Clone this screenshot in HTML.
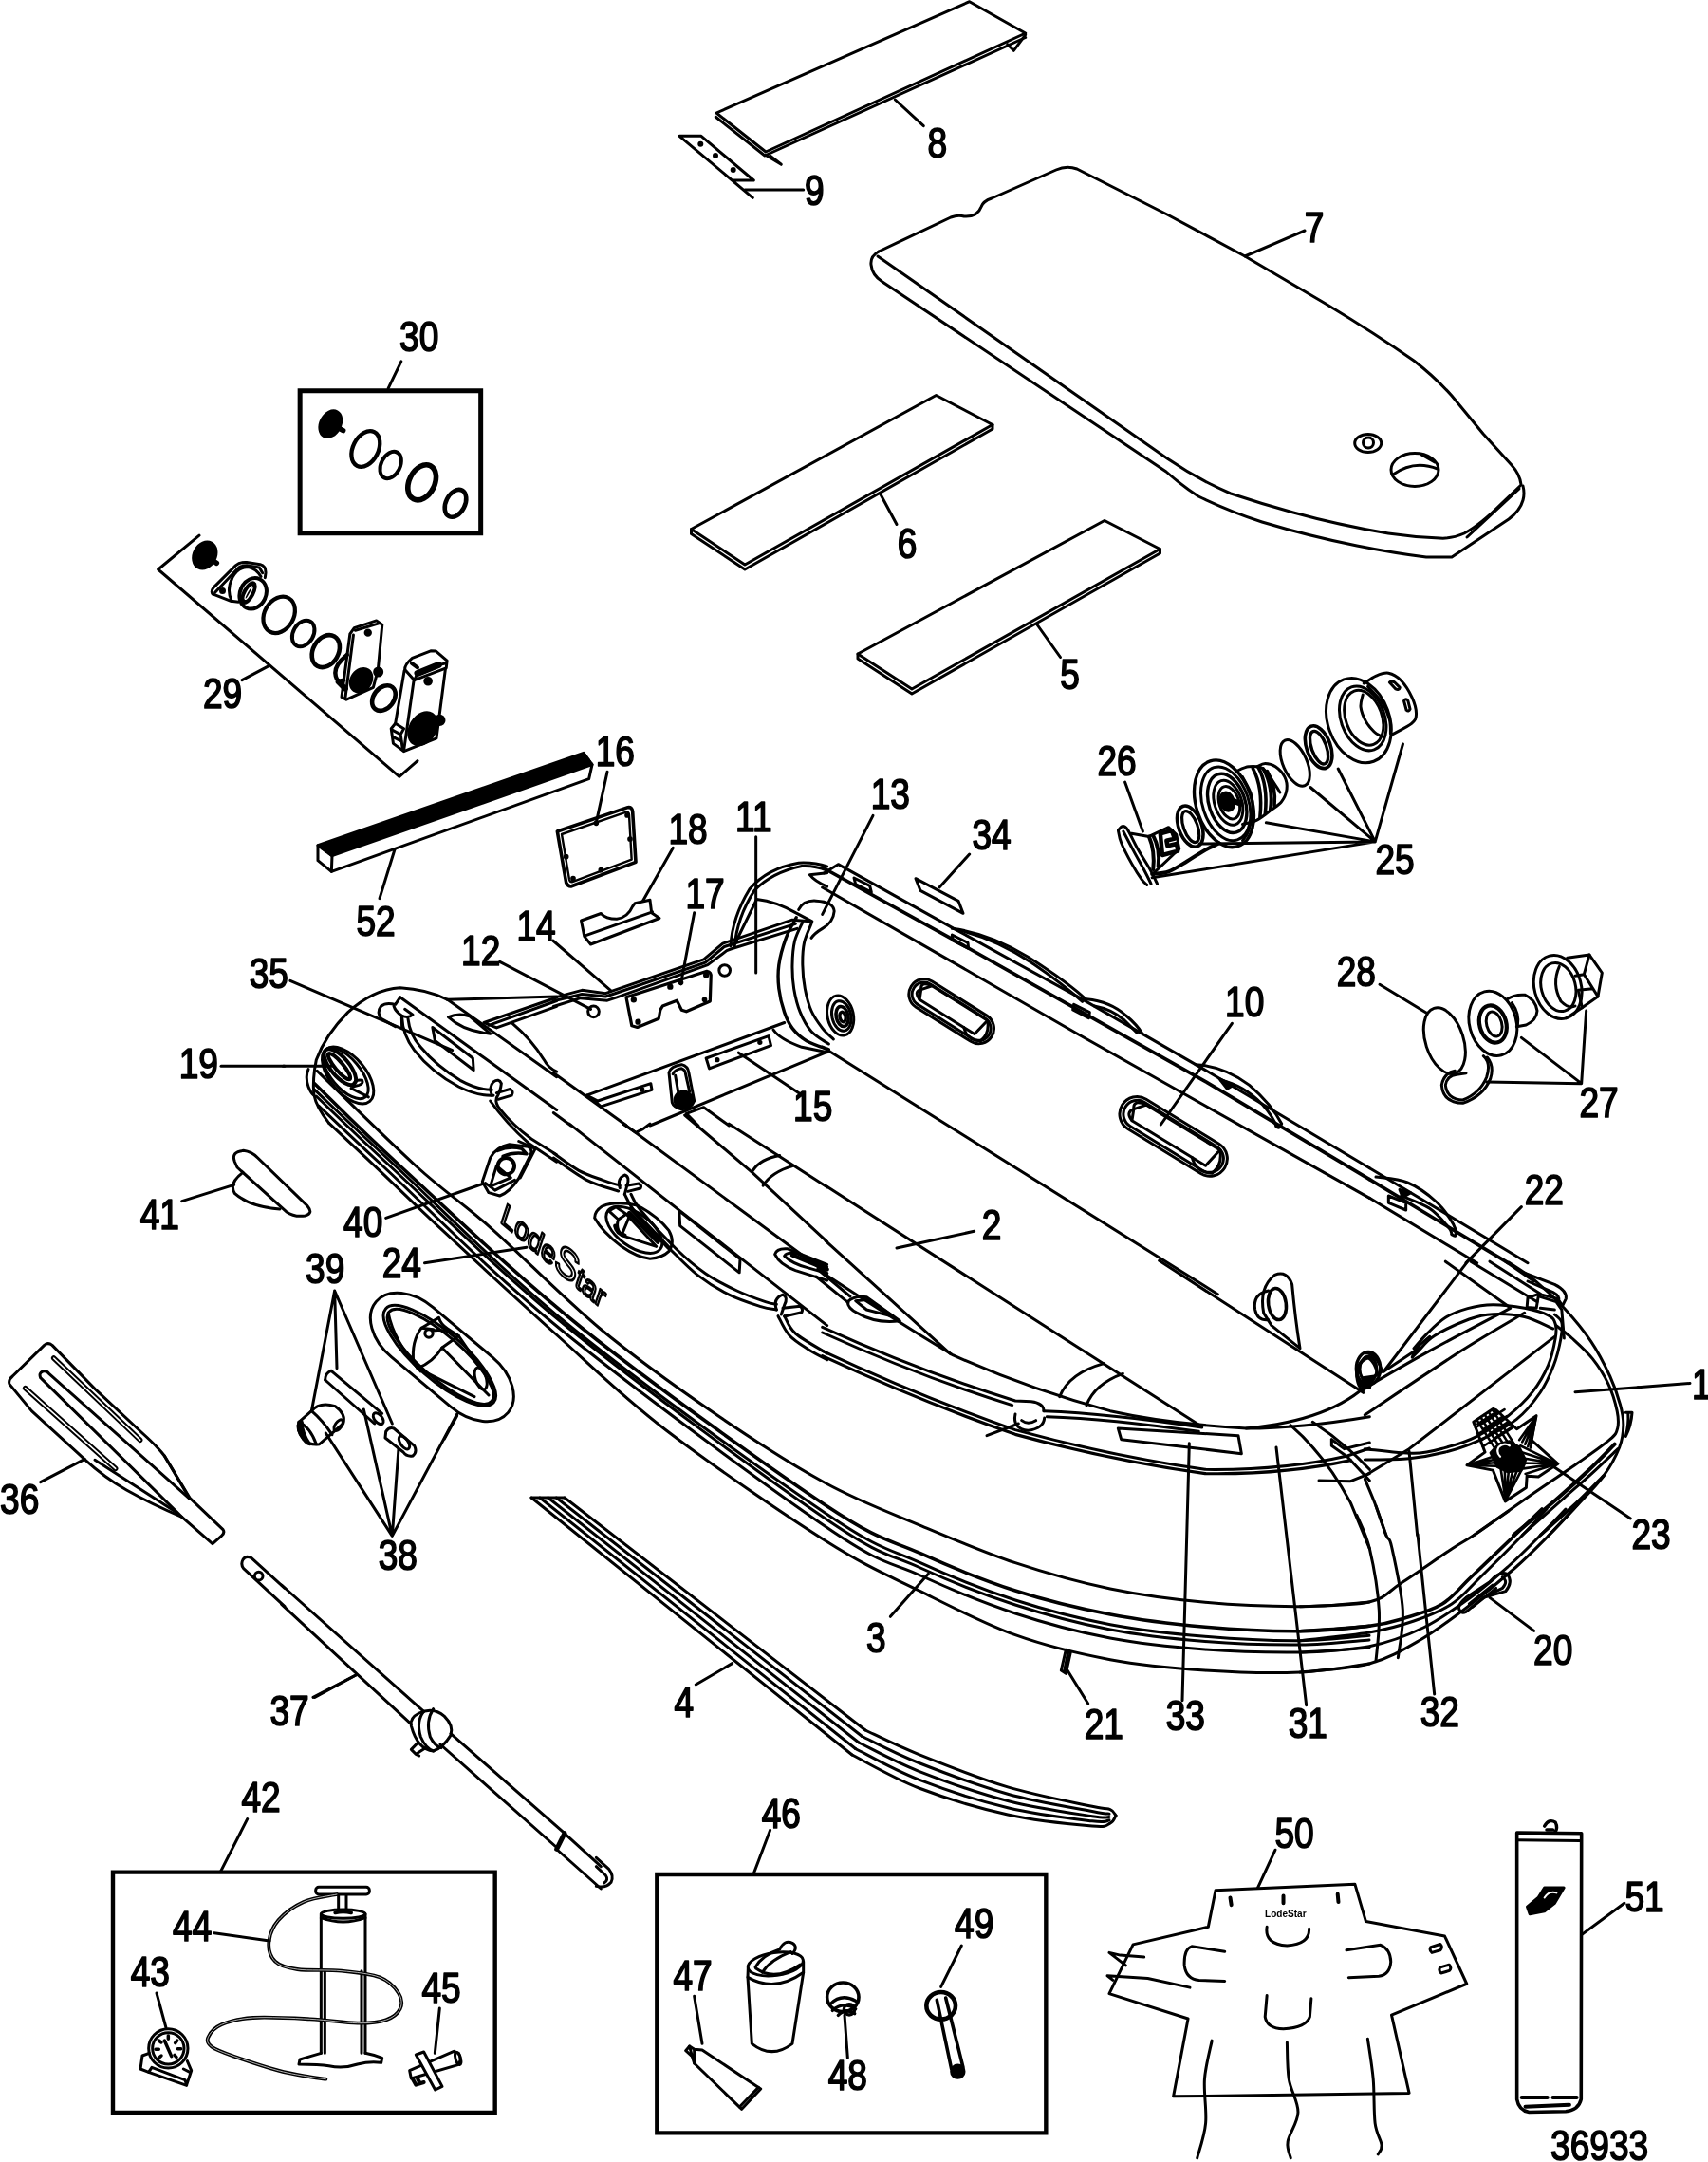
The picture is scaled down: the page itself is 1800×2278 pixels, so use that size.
<!DOCTYPE html>
<html><head><meta charset="utf-8"><title>LodeStar parts diagram 36933</title>
<style>
html,body{margin:0;padding:0;background:#fff}
svg{display:block}
.d path,.d line,.d ellipse,.d circle,.d polyline,.d polygon,.d rect{fill:none;stroke:#000;stroke-width:3;vector-effect:non-scaling-stroke;stroke-linecap:round;stroke-linejoin:round}
.d .f{fill:#000}
.d .w{fill:#fff}
.d .t{stroke-width:1.6}
.d .k{stroke-width:3.4}
.n text{font-family:"Liberation Sans",sans-serif;font-size:43.6px;text-anchor:middle;fill:#000;stroke:#000;stroke-width:1.7px;stroke-linejoin:round}
</style></head><body>
<svg width="1800" height="2278" viewBox="0 0 1800 2278">
<defs><filter id="gs" x="-10%" y="-10%" width="120%" height="120%"><feColorMatrix type="saturate" values="0"/></filter></defs>
<rect width="1800" height="2278" fill="#fff"/>
<g class="d">
<g transform="translate(0 0) scale(1.000000)">
<!-- part 7 floor board -->
<path d="M926,265 L1002,229 Q1010,226 1016,228 Q1030,229 1034,218 Q1036,212 1045,209 L1113,179 Q1124,174 1135,178 L1230,226 L1312,270 L1397,320 Q1450,352 1490,380 Q1512,397 1530,417 L1563,457 L1593,490 Q1602,500 1603,511 L1583,530 Q1560,553 1543,562 Q1530,568 1517,567 Q1490,566 1463,562 Q1410,553 1363,540 Q1330,531 1297,520 Q1262,505 1230,483 L925,270"/>
<path d="M926,265 Q917,270 918,279 Q919,290 930,297 L1229,497 Q1246,512 1263,523 Q1296,539 1330,550 Q1380,565 1430,575 Q1470,583 1503,587 L1530,587 L1590,547 Q1602,538 1605,527 Q1607,520 1605,512"/>
<path d="M1601,515 L1546,566"/>
<ellipse cx="1441.7" cy="467" rx="14" ry="9.5"/><circle cx="1442" cy="466.5" r="5.5"/>
<ellipse cx="1491" cy="495" rx="25" ry="17.5"/>
<path d="M1468,500 Q1490,484 1515,494"/>
<path d="M1498,479 L1512,487"/>
<line x1="1312" y1="270" x2="1375" y2="243"/>
<!-- part 8 -->
<path d="M755,119 L1021.7,1.7 L1080.7,35 L807,160 Z"/>
<path d="M754.3,123.3 L806,164 L1080.7,39.5"/>
<path d="M1061.7,46.7 L1068.3,53.3 L1080.7,36.7"/>
<path d="M806.7,163.3 L823.3,173.3 L811.7,164.3"/>
<line x1="943.3" y1="105" x2="973.3" y2="132.7"/>
<!-- part 9 -->
<path d="M793.3,208.3 L716,143.3 L739,143.3 L794.3,190 L771.7,190"/>
<circle class="f" cx="738.3" cy="151.7" r="1.5"/><circle class="f" cx="754" cy="164" r="1.5"/><circle class="f" cx="772.7" cy="179" r="1.5"/>
<line x1="785" y1="200" x2="846.7" y2="200"/>
<!-- part 6 -->
<path d="M986.5,416.5 L1046,447.5 L785,595 L728.5,557.5 Z"/>
<path d="M1046,447.5 L1046,452 L785,600 L728.5,562.5 L728.5,557.5"/>
<line x1="927.5" y1="520" x2="945" y2="552.5"/>
<!-- part 5 -->
<path d="M1164,548.5 L1222.5,578.5 L961,726 L904,689 Z"/>
<path d="M1222.5,578.5 L1222.5,583 L961,731 L904,694 L904,689"/>
<line x1="1092.5" y1="657.5" x2="1117.5" y2="692.5"/>

</g>
<g transform="translate(300 400) scale(0.166667)">
<rect x="97" y="70" width="1143" height="900" style="stroke-width:5;stroke-linejoin:miter"/>
<line x1="655" y1="55" x2="737" y2="-115"/>
<ellipse class="f" cx="290" cy="280" rx="62" ry="88" transform="rotate(28 290 280)"/>
<line x1="320" y1="295" x2="370" y2="322" style="stroke-width:5.5"/>
<ellipse cx="512" cy="438" rx="80" ry="120" transform="rotate(27 512 438)" style="stroke-width:4.3"/>
<ellipse cx="670" cy="540" rx="60" ry="90" transform="rotate(27 670 540)" style="stroke-width:4"/>
<ellipse cx="868" cy="650" rx="80" ry="118" transform="rotate(27 868 650)" style="stroke-width:5.6"/>
<ellipse cx="1080" cy="782" rx="60" ry="92" transform="rotate(27 1080 782)" style="stroke-width:4.6"/>

</g>
<g transform="translate(160 560) scale(0.166667)">
<path d="M300,25 L40,240 L1565,1550 L1680,1450"/>
<line x1="740" y1="850" x2="570" y2="940"/>
<ellipse class="f" cx="335" cy="150" rx="68" ry="88" transform="rotate(28 335 150)"/>
<line x1="370" y1="175" x2="410" y2="200" style="stroke-width:5.5"/>
<!-- flange -->
<path d="M385,395 Q372,380 390,355 L530,215 Q555,192 600,195 L685,208 Q722,218 720,262 L716,292"/>
<path d="M400,385 L545,232 Q560,215 600,215 L680,228 L700,262"/>
<path d="M385,395 L500,440 L548,445"/>
<path d="M505,440 Q470,370 510,290 Q545,225 610,225 Q660,235 690,285"/>
<circle class="f" cx="447" cy="375" r="12"/>
<ellipse cx="640" cy="392" rx="82" ry="100" transform="rotate(25 640 392)" style="stroke-width:4"/>
<ellipse class="f" cx="612" cy="388" rx="30" ry="72" transform="rotate(28 612 388)"/>
<ellipse cx="612" cy="388" rx="10" ry="45" transform="rotate(28 612 388)" style="stroke:#fff;stroke-width:1.5"/>
<ellipse cx="805" cy="527" rx="92" ry="122" transform="rotate(30 805 527)" style="stroke-width:4.2"/>
<ellipse cx="958" cy="645" rx="64" ry="88" transform="rotate(30 958 645)" style="stroke-width:4"/>
<ellipse cx="1100" cy="757" rx="80" ry="108" transform="rotate(30 1100 757)" style="stroke-width:4.6"/>

</g>
<g transform="translate(340 640) scale(0.111111)">
<!-- plate -->
<path d="M300,195 L510,125 L565,165 L525,590 L480,760 L225,875 L180,850 L260,250 Z" style="stroke-width:3"/>
<path d="M310,218 L540,150"/>
<path d="M292,262 L215,860"/>
<circle class="f" cx="430" cy="240" r="24"/>
<ellipse class="f" cx="365" cy="690" rx="92" ry="118" transform="rotate(35 365 690)"/>
<circle class="f" cx="528" cy="612" r="36"/>
<path d="M232,450 Q120,540 120,620 Q125,690 160,700 L200,690" style="stroke-width:4.5"/>
<path d="M150,705 L215,770" style="stroke-width:6"/>
<!-- ring -->
<ellipse cx="580" cy="860" rx="96" ry="132" transform="rotate(38 580 860)" style="stroke-width:4.6"/>
<!-- block -->
<path d="M780,590 Q775,545 850,480 L1025,412 L1075,415 L1180,505 L1172,575 L870,690 Z" style="stroke-width:3"/>
<path d="M775,600 L690,1100 L650,1150 L670,1290 L770,1365 L1080,1240 L1165,580" style="stroke-width:3"/>
<path d="M865,690 L770,1360" style="stroke-width:3"/>
<path d="M690,1100 L770,1150 L740,1205 L655,1160 M740,1205 L760,1350 M670,1230 L750,1270"/>
<ellipse class="f" cx="950" cy="1150" rx="118" ry="165" transform="rotate(32 950 1150)"/>
<circle class="f" cx="1110" cy="1070" r="42"/>
<circle class="f" cx="1000" cy="700" r="30"/>
<path d="M900,625 L1100,545" style="stroke-width:7"/>
<path d="M845,530 L900,570" style="stroke-width:4"/>
<path d="M870,690 L900,625 M1100,545 L1172,530"/>

</g>
<g transform="translate(300 1000) scale(0.166667)">
<!-- stern cone outline -->
<path d="M1030,320 Q900,255 730,245 Q560,255 400,400 Q260,540 200,700 Q175,820 185,920 Q200,1000 280,1100"/>
<path d="M150,760 Q128,810 150,870 Q165,910 185,925"/>





<!-- valve 19 -->
<ellipse cx="400" cy="798" rx="215" ry="112" transform="rotate(50 400 798)"/>
<ellipse cx="385" cy="785" rx="195" ry="92" transform="rotate(50 385 785)"/>
<ellipse cx="350" cy="745" rx="140" ry="58" transform="rotate(50 350 745)" style="stroke-width:4"/>
<ellipse cx="345" cy="742" rx="105" ry="26" transform="rotate(50 345 742)" style="stroke-width:4"/>
<path d="M430,870 Q440,820 490,830 Q500,850 470,860 Z"/>
<path d="M420,880 L530,935"/>
<line x1="-10" y1="740" x2="300" y2="740"/>
<!-- leader 35 -->
<line x1="35" y1="200" x2="1060" y2="640"/>
<!-- top lines -->
<path d="M1030,320 L1720,300"/>
<path d="M1030,320 L1720,808"/>
<path d="M730,305 L1720,1017"/>
<path d="M1260,465 L1720,306 M1290,482 L1720,327 M1340,497 L1720,362 M1260,465 L1340,497"/>
<path d="M1440,470 Q1560,570 1640,700 Q1665,750 1720,775"/>
<path d="M1035,430 Q1100,400 1170,425 L1300,535 Q1130,520 1035,430 Z"/>
<!-- handle patch and rope -->
<path d="M730,305 L700,350 Q640,335 610,360 Q580,400 610,440 L700,490"/>
<path d="M690,360 Q700,395 740,420 L742,500 M740,420 Q780,440 810,415 L760,380"/>
<path d="M742,430 Q745,540 820,640 Q930,780 1100,870 Q1220,930 1320,925"/>
<path d="M780,440 Q790,540 860,620 Q960,740 1110,830 Q1220,890 1310,890"/>
<path d="M935,495 L1190,690 L1195,765 L950,578 Z"/>
<path d="M1310,925 Q1290,870 1320,840 Q1355,815 1370,850 Q1365,900 1340,940 Q1330,975 1360,1010 Q1440,1110 1560,1200 L1720,1300"/>
<path d="M1300,960 Q1400,1100 1540,1225 L1720,1345"/>
<path d="M1340,910 L1425,885 Q1450,900 1435,925 L1350,950"/>
<!-- oarlock 40 -->
<path d="M1250,1470 L1300,1320 Q1340,1250 1420,1235 L1540,1250 Q1570,1265 1555,1300 L1480,1450 Q1420,1540 1360,1560 L1290,1540 Z"/>
<circle cx="1400" cy="1372" r="52" style="stroke-width:4"/>
<path d="M1300,1500 L1340,1370 L1430,1445 Z"/>
<path d="M1345,1275 Q1420,1240 1500,1262 L1530,1295 Q1450,1280 1380,1310" style="stroke-width:3.5"/>
<path d="M1480,1215 L1585,1262 L1490,1445"/>
<path d="M1270,1480 L1330,1525 L1455,1460"/>
<line x1="1250" y1="1485" x2="640" y2="1700"/>

</g>
<g transform="translate(585 900) scale(0.166667)">
<!-- part 18 -->
<path d="M165,420 L290,375 Q320,410 390,410 Q460,400 490,330 L505,310 L600,290 L610,370 L660,405 L225,570 L185,520 Z"/>
<path d="M190,515 L615,365"/>
<line x1="555" y1="295" x2="746" y2="-40"/>
<line x1="880" y1="370" x2="795" y2="820"/>
<line x1="1270" y1="-110" x2="1270" y2="750"/>
<!-- transom top -->
<path d="M-10,908 L170,860 L320,880 L370,862 L940,665 L1060,565 L1500,415 L1610,425"/>
<path d="M-10,928 L170,885 L320,900 L375,882 L950,685 L1070,585 L1520,440"/>
<path d="M-10,963 L160,910 L330,925 L390,905 L965,700 L1085,610 L1110,600 L1530,470"/>
<line x1="-14" y1="546" x2="350" y2="860"/>
<line x1="-350" y1="680" x2="225" y2="980"/>
<circle cx="243" cy="995" r="35"/>
<circle cx="1072" cy="735" r="35"/>
<path d="M450,905 L960,740 Q990,745 985,780 L980,930 L830,995 L800,985 L770,925 L680,960 L665,985 L655,1040 L520,1095 L485,1085 Z" style="stroke-width:3.2"/>
<circle class="f" cx="497" cy="920" r="10"/><circle class="f" cx="728" cy="838" r="10"/><circle class="f" cx="795" cy="812" r="8"/><circle class="f" cx="955" cy="765" r="10"/><circle class="f" cx="945" cy="920" r="8"/><circle class="f" cx="525" cy="1060" r="10"/>
<!-- far tube end -->
<path d="M1110,580 Q1120,400 1230,220 Q1340,90 1540,55 Q1640,50 1720,78"/>
<path d="M1135,585 Q1150,400 1260,230 Q1370,115 1560,75 Q1640,70 1720,102"/>
<path d="M1150,540 L1275,285 Q1400,300 1520,370 L1625,425"/>
<path d="M1720,118 L1610,130 Q1640,170 1720,205"/>
<path d="M1540,350 Q1570,290 1650,295 Q1760,300 1765,360 Q1760,430 1690,470 Q1640,500 1620,530"/>
<path d="M1525,400 C1514.2,421.7 1478.3,480.0 1460,530 C1441.7,580.0 1422.5,646.7 1415,700 C1407.5,753.3 1409.2,800.0 1415,850 C1420.8,900.0 1435.8,958.3 1450,1000 C1464.2,1041.7 1476.7,1070.0 1500,1100 C1523.3,1130.0 1551.7,1157.5 1590,1180 C1628.3,1202.5 1706.7,1225.8 1730,1235" style="stroke-width:3.4"/>
<path d="M1565,430 C1556.7,450.0 1525.8,505.0 1515,550 C1504.2,595.0 1500.8,650.0 1500,700 C1499.2,750.0 1501.7,800.0 1510,850 C1518.3,900.0 1531.7,955.0 1550,1000 C1568.3,1045.0 1590.0,1086.7 1620,1120 C1650.0,1153.3 1711.7,1186.7 1730,1200"/>
<path d="M1620,440 C1612.5,460.0 1584.2,516.7 1575,560 C1565.8,603.3 1564.2,651.7 1565,700 C1565.8,748.3 1570.8,801.7 1580,850 C1589.2,898.3 1601.7,948.3 1620,990 C1638.3,1031.7 1666.7,1070.0 1690,1100 C1713.3,1130.0 1748.3,1158.3 1760,1170"/>

<path d="M1380,1110 Q1420,1170 1560,1220 L1720,1252"/>
<!-- floor -->
<path d="M200,1525 L1450,1065"/>
<path d="M-10,1383 L450,1715"/>
<path d="M955,1290 L1350,1150 L1365,1210 L975,1355 Z"/>
<circle class="f" cx="1025" cy="1300" r="7"/><circle class="f" cx="1295" cy="1190" r="7"/>
<path d="M200,1525 L270,1560 L605,1450 L612,1490 L290,1595 L225,1540"/>
<circle class="f" cx="550" cy="1488" r="7"/>
<path d="M600,1716 L1720,1250"/>
<line x1="1160" y1="1255" x2="1555" y2="1520"/>
<path d="M720,1380 Q730,1340 800,1330 Q840,1340 845,1380 L880,1560 Q860,1610 800,1612 Q750,1600 740,1570 Z" style="stroke-width:3"/>
<path d="M745,1390 Q760,1360 800,1355 Q825,1365 825,1390 L850,1500"/>
<path d="M760,1400 L790,1570"/>
<circle class="f" cx="812" cy="1555" r="55"/>
<path d="M830,1640 L940,1600 L1100,1716 M830,1640 L905,1716"/>
<path d="M-10,1635 L100,1716"/>

</g>
<g transform="translate(870 760) scale(0.333333)">
<!-- far tube top seam lines -->
<path d="M-5,480 L40,452 L400,652 L800,872 L1200,1102 L1720,1412"/>
<path d="M-10,462 L400,688 L800,913 L1200,1138 L1720,1448" style="stroke-width:3.6"/>
<path d="M-10,525 L400,760 L800,990 L1200,1215 L1720,1507"/>

<!-- rope arcs -->
<path d="M400,655 Q520,670 640,745 Q760,820 825,880"/>
<path d="M430,662 Q540,690 650,762 Q750,830 812,886"/>
<path d="M825,878 Q900,885 950,930 Q985,960 1000,985"/>
<path d="M850,900 Q905,910 945,945 L985,985"/>
<path d="M1170,1085 Q1260,1090 1340,1150 Q1410,1210 1442,1272 Q1436,1292 1425,1280"/>
<path d="M1250,1135 Q1320,1150 1380,1210 Q1415,1250 1425,1280"/>
<!-- tabs -->
<path d="M90,495 L140,520 L145,540 L95,515 Z"/>
<path d="M400,675 L450,700 L452,718 L402,693 Z"/>
<path d="M785,895 L835,920 L832,938 L782,912 Z"/>
<path class="f" d="M1245,1130 L1290,1150 L1270,1162 Z"/>
<!-- 34 -->
<path d="M285,497 L420,568 L435,607 L300,535 Z"/>
<line x1="455" y1="420" x2="360" y2="525"/>
<line x1="150" y1="298" x2="-10" y2="610"/>
<!-- handles 10 -->
<g transform="translate(398 917) rotate(32)">
<rect x="-150" y="-48" width="300" height="96" rx="48"/>
<rect x="-140" y="-38" width="280" height="76" rx="38"/>
<path d="M-118,-8 L-95,-36 L112,-36 L100,22 L-105,22 Z"/>
<path d="M-95,-36 Q-135,-30 -118,-8 Q-135,10 -105,22 M112,-36 Q140,-5 128,30 Q90,52 60,22"/>
</g>
<g transform="translate(1100 1312) rotate(31.5)">
<rect x="-190" y="-55" width="380" height="110" rx="55"/>
<rect x="-178" y="-44" width="356" height="88" rx="44"/>
<path d="M-152,-8 L-125,-40 L148,-40 L135,26 L-138,26 Z"/>
<path d="M-125,-40 Q-172,-34 -152,-8 Q-170,14 -138,26 M148,-40 Q180,-5 165,36 Q120,60 85,26"/>
</g>
<line x1="1285" y1="955" x2="1060" y2="1275"/>
<!-- valve -->
<g transform="rotate(-12 47 930)"><ellipse cx="47" cy="930" rx="41" ry="64"/><ellipse cx="50" cy="932" rx="30" ry="48"/><ellipse cx="52" cy="934" rx="19" ry="32" style="stroke-width:3.6"/><ellipse cx="53" cy="936" rx="9" ry="16" style="stroke-width:3.4"/></g>
<!-- floor lines -->
<path d="M-10,1029 L1240,1811"/>
<line x1="225" y1="1665" x2="470" y2="1612"/>

</g>
<g transform="translate(870 1330) scale(0.333333)">
<!-- curve a: inner edge of near tube top -->
<path d="M-10,32 Q200,170 400,292 Q640,400 900,470 Q1080,510 1330,525 Q1500,525 1720,488"/>
<path d="M0,-68 L395,290"/>
<path d="M0,-242 L1190,520"/>
<path d="M740,425 Q770,350 880,320 M825,452 Q850,385 940,352"/>
<!-- F1 -->
<path d="M1055,-5 L1700,412"/>
<!-- handle patch top-left -->
<path d="M-25,22 L78,108 M-30,45 L72,128"/>
<path d="M70,125 Q90,105 130,110 L235,185 Q160,195 100,160 Q70,145 70,125 Z"/>
<path d="M95,122 L135,118 L215,172 L130,150 Z" style="stroke-width:3"/>
<!-- rope -->
<path d="M-10,205 Q300,345 600,438 L650,440 Q690,445 690,470"/>
<path d="M-10,222 Q300,362 590,452"/>
<path d="M600,480 Q590,525 640,532 Q690,525 692,492"/>
<path d="M620,500 Q640,515 665,500"/>
<path d="M690,470 Q900,478 1190,522"/>
<path d="M700,488 Q900,495 1180,535"/>
<!-- seam c -->
<path d="M-10,280 Q300,425 600,530 Q900,612 1200,655 Q1450,658 1650,612 L1720,588"/>
<path d="M-10,296 Q300,440 600,544 Q900,626 1200,668 Q1450,672 1660,626" style="stroke-width:3.2"/>
<path d="M510,548 L610,510"/>
<!-- 33 patch -->
<path d="M925,525 L1305,548 L1315,605 L935,560 Z"/>
<line x1="1150" y1="572" x2="1128" y2="1385"/>
<line x1="1425" y1="585" x2="1520" y2="1400"/>
<!-- bow seams -->
<path d="M1470,515 Q1580,610 1660,760 L1720,905"/>
<path d="M1540,505 Q1640,570 1720,655"/>
<path d="M1600,560 L1640,590 L1720,570 M1600,560 L1600,580 L1650,615 L1720,690 M1560,690 L1660,692 L1720,668"/>
<!-- D ring -->
<path d="M1385,160 Q1370,80 1420,40 Q1460,25 1475,70 Q1485,180 1500,272 L1410,200 Z"/>
<ellipse cx="1428" cy="132" rx="28" ry="50" transform="rotate(-8 1428 132)" style="stroke-width:3.5"/>
<path d="M1400,90 Q1350,100 1358,150 Q1365,185 1400,182"/>
<path d="M1720,300 Q1680,310 1680,360 Q1690,400 1720,395" style="stroke-width:3.5"/>
<path d="M1720,380 Q1600,500 1330,525"/>
<!-- 21 -->
<path d="M760,1225 L745,1290 L760,1300 L775,1232"/>
<path d="M768,1228 L755,1292"/>
<line x1="830" y1="1395" x2="765" y2="1290"/>
<line x1="205" y1="1120" x2="325" y2="985"/>

</g>
<g transform="translate(400 1230) scale(0.166667)">
<!-- LodeStar -->
<g filter="url(#gs)"><text transform="translate(757 342) rotate(40.5) skewX(22) scale(1.17 1)" style="font-family:'Liberation Sans',sans-serif;font-size:170px;fill:#fff;stroke:#000;stroke-width:13px;stroke-linejoin:round">Lode<tspan style="font-size:228px">S</tspan>tar</text></g>
<line x1="285" y1="605" x2="930" y2="505"/>
<!-- oarlock base 38 -->
<rect x="-545" y="-205" width="1090" height="410" rx="300" ry="205" transform="translate(395 1200) rotate(40)"/>
<ellipse cx="380" cy="1190" rx="452" ry="150" transform="rotate(41 380 1190)"/>
<ellipse cx="385" cy="1196" rx="430" ry="132" transform="rotate(41 385 1196)"/>
<path d="M215,1235 Q200,1100 265,1015 L375,950 Q385,990 430,1020 L500,1065 L395,1140 Q340,1230 240,1270 Z"/>
<circle cx="312" cy="1050" r="25" style="stroke-width:3"/>
<path d="M335,1032 Q420,1020 500,1065 M265,1015 L340,1025"/>
<path d="M395,1140 L690,1440 M500,1065 L640,1270 M240,1270 L600,1450"/>
<ellipse cx="640" cy="1335" rx="34" ry="72" transform="rotate(-18 640 1335)"/>
<path d="M55,920 Q90,1100 260,1290"/>
<line x1="490" y1="1570" x2="410" y2="1716"/>

</g>
<g transform="translate(300 1330) scale(0.333333)">
<!-- keel strip 4 -->
<line x1="1415" y1="1268" x2="1300" y2="1335"/>
<!-- oar shaft 37 -->
<path d="M-10,1020 L440,1420 M-10,1081 L400,1460"/>
<path d="M400,1465 Q395,1440 425,1425 Q470,1405 505,1435 Q535,1465 525,1495 Q500,1535 470,1545 Q420,1540 400,1465 Z"/>
<path d="M440,1420 Q415,1450 430,1500 Q445,1535 470,1545 M470,1412 Q445,1450 460,1500 Q475,1530 495,1535"/>
<path d="M420,1520 L400,1540 L415,1555 L445,1535 M415,1555 L425,1560"/>
<line x1="225" y1="1305" x2="95" y2="1375"/>
<!-- 38/39 leaders -->
<path d="M340,865 L130,540 M340,865 L250,465 M340,865 L360,590 M340,865 L545,480"/>
<path d="M158,90 L85,470 M158,90 L165,335 M158,90 L340,510"/>
<!-- pin rod -->
<path d="M147,343 L308,478 M128,372 L284,510"/>
<ellipse cx="296" cy="494" rx="12" ry="21" transform="rotate(-40 296 494)"/>
<path d="M147,343 Q128,350 128,372"/>
<!-- bushing -->
<path d="M85,470 Q110,440 160,455 Q195,480 185,510 L110,575 Q80,580 60,560 Q35,530 45,505 Z"/>
<path d="M85,470 Q120,500 150,545 M45,505 Q80,520 100,575"/>
<ellipse cx="170" cy="515" rx="10" ry="20" transform="rotate(35 170 515)"/>
<path class="f" d="M45,505 Q35,530 60,560 Q70,575 80,575 Q55,540 55,505 Z"/>
<!-- small pin -->
<path d="M320,535 Q330,520 345,525 L410,580 Q420,600 405,612 Q385,615 375,600 L318,555 Z"/>
<ellipse cx="378" cy="570" rx="12" ry="24" transform="rotate(-35 378 570)"/>

</g>
<g transform="translate(1440 1330) scale(0.166667)">
<!-- outer silhouette -->
<path d="M900,0 C926.7,18.3 1001.7,61.7 1060,110 C1118.3,158.3 1190.0,225.0 1250,290 C1310.0,355.0 1371.7,428.3 1420,500 C1468.3,571.7 1509.2,653.3 1540,720 C1570.8,786.7 1590.8,848.3 1605,900 C1619.2,951.7 1625.8,985.0 1625,1030 C1624.2,1075.0 1620.8,1116.7 1600,1170 C1579.2,1223.3 1545.0,1288.3 1500,1350 C1455.0,1411.7 1388.3,1476.7 1330,1540 C1271.7,1603.3 1180.0,1698.3 1150,1730"/>
<!-- line A around bow -->
<path d="M680,1725 C733.3,1687.5 888.3,1577.5 1000,1500 C1111.7,1422.5 1260.0,1323.3 1350,1260 C1440.0,1196.7 1500.3,1155.0 1540,1120 C1579.7,1085.0 1580.5,1080.0 1588,1050 C1595.5,1020.0 1594.7,986.7 1585,940 C1575.3,893.3 1555.8,825.0 1530,770 C1504.2,715.0 1468.3,658.3 1430,610 C1391.7,561.7 1338.3,515.0 1300,480 C1261.7,445.0 1216.7,413.3 1200,400"/>
<!-- strake -->
<path d="M930,1725 C975.0,1687.5 1121.7,1567.5 1200,1500 C1278.3,1432.5 1338.3,1378.3 1400,1320 C1461.7,1261.7 1541.7,1178.3 1570,1150" style="stroke-width:4"/>
<path d="M985,1725 C1029.2,1685.8 1177.5,1554.2 1250,1490 C1322.5,1425.8 1363.3,1391.7 1420,1340 C1476.7,1288.3 1561.7,1206.7 1590,1180"/>
<path d="M1100,1725 C1138.3,1690.8 1263.3,1582.5 1330,1520 C1396.7,1457.5 1471.7,1378.3 1500,1350" style="stroke-width:3.4"/>
<path d="M1640,950 L1680,950 Q1675,1030 1640,1100 Q1660,1020 1655,960"/>
<!-- rings -->
<path d="M-10,1180 C41.7,1184.7 215.0,1209.3 300,1208 C385.0,1206.7 433.3,1190.0 500,1172 C566.7,1154.0 633.3,1134.0 700,1100 C766.7,1066.0 841.7,1014.7 900,968 C958.3,921.3 1008.3,873.0 1050,820 C1091.7,767.0 1125.8,706.7 1150,650 C1174.2,593.3 1187.5,523.3 1195,480 C1202.5,436.7 1202.5,414.2 1195,390 C1187.5,365.8 1182.5,351.7 1150,335 C1117.5,318.3 1058.3,301.2 1000,290 C941.7,278.8 860.0,267.7 800,268 C740.0,268.3 690.0,278.3 640,292 C590.0,305.7 543.3,322.8 500,350 C456.7,377.2 413.3,422.5 380,455 C346.7,487.5 313.3,530.0 300,545"/>
<path d="M-10,1248 C36.7,1246.7 185.0,1248.0 270,1240 C355.0,1232.0 428.3,1218.0 500,1200 C571.7,1182.0 625.0,1166.7 700,1132 C775.0,1097.3 883.3,1043.7 950,992 C1016.7,940.3 1060.8,879.0 1100,822 C1139.2,765.0 1163.3,707.0 1185,650 C1206.7,593.0 1221.7,525.0 1230,480 C1238.3,435.0 1241.7,405.0 1235,380 C1228.3,355.0 1197.5,338.3 1190,330"/>
<path d="M1180,420 C1150.0,407.5 1063.3,360.3 1000,345 C936.7,329.7 858.3,325.5 800,328 C741.7,330.5 711.7,337.2 650,360 C588.3,382.8 483.3,431.7 430,465 C376.7,498.3 353.3,537.5 330,560 C306.7,582.5 296.7,593.3 290,600"/>
<!-- straps / lines -->
<path d="M-10,795 C58.3,755.8 246.7,644.2 400,560 C553.3,475.8 825.0,335.0 910,290"/>
<path d="M-10,965 C91.7,897.5 431.7,667.5 600,560 C768.3,452.5 933.3,360.0 1000,320"/>
<path d="M-10,1350 L270,1180 L1190,470"/>
<path d="M640,-5 L110,690"/>
<path d="M500,-5 L900,280 M660,-5 L1080,250 M780,-5 L1100,200 M880,-5 L1060,120"/>
<path d="M290,600 Q300,560 340,520 L400,470"/>
<path d="M110,690 L330,545"/>
<!-- bow handle -->
<path d="M980,60 L1190,140 Q1270,180 1262,230 L1240,275 L1210,230 L1090,200 L1020,225 L1015,285 L1075,290 L1090,200"/>
<path d="M1090,215 L1200,250 L1235,300 L1250,480 M1100,290 L1190,300"/>
<path d="M1020,120 L1180,190 Q1225,215 1215,240"/>
<!-- leaders -->
<line x1="1320" y1="820" x2="1720" y2="790"/>
<line x1="1180" y1="1290" x2="1670" y2="1620"/>
<path d="M270,1195 L322,1725"/>
<path d="M-10,1370 C1.7,1398.3 37.5,1480.8 60,1540 C82.5,1599.2 114.2,1694.2 125,1725"/>
<!-- keel cylinder end at left -->
<path d="M-10,575 Q60,570 100,690 L-10,760 M-10,600 Q40,600 70,700"/>

</g>
<g transform="translate(1230 1330) scale(0.333333)">
<!-- seams lower -->
<path d="M600,800 C606.7,817.5 628.3,855.0 640,905 C651.7,955.0 666.7,1040.5 670,1100 C673.3,1159.5 661.7,1235.0 660,1262"/>
<path d="M660,770 C665.3,785.3 683.7,840.3 692,862 C700.3,883.7 701.2,860.3 710,900 C718.8,939.7 741.7,1041.7 745,1100 C748.3,1158.3 732.5,1225.0 730,1250"/>
<path d="M792,860 L845,1365"/>
<!-- D-ring 22 -->
<ellipse cx="636" cy="335" rx="38" ry="52" style="stroke-width:3.4"/>
<ellipse cx="636" cy="338" rx="27" ry="40"/>
<path class="f" d="M618,365 L655,360 L640,395 L622,400 Z"/>
<path d="M600,330 Q595,390 620,405"/>
<!-- part 20 -->
<path d="M925,1100 Q915,1085 945,1060 L1020,1010 Q1050,975 1075,985 Q1095,1010 1070,1040 L1000,1060 L945,1105 Q930,1112 925,1100 Z"/>
<path d="M955,1080 L1030,1020 M965,1090 L1040,1030 M1000,1060 L1060,1030 Q1080,1010 1060,995" style="stroke-width:3"/>
<line x1="1020" y1="1060" x2="1160" y2="1165"/>

</g>
<g transform="translate(1230 760) scale(0.333333)">
<path d="M640,1412 L1140,1712"/>
<path d="M640,1448 L1078,1712" style="stroke-width:3.6"/>
<path d="M640,1507 L980,1712"/>
<!-- rope arc -->
<path d="M660,1440 C676.7,1443.0 728.3,1445.0 760,1458 C791.7,1471.0 825.8,1496.0 850,1518 C874.2,1540.0 894.7,1572.2 905,1590 C915.3,1607.8 912.8,1619.7 912,1625 C911.2,1630.3 902.0,1622.5 900,1622"/>
<path d="M740,1500 C755.0,1506.7 805.0,1523.3 830,1540 C855.0,1556.7 878.3,1586.3 890,1600 C901.7,1613.7 898.3,1618.3 900,1622"/>
<path d="M700,1500 L755,1522 L755,1545 L700,1522 Z" style="stroke-width:3"/>
<path class="f" d="M735,1480 L770,1490 L745,1505 Z"/>
<!-- leaders -->
<line x1="1120" y1="1535" x2="945" y2="1712"/>
<line x1="672" y1="832" x2="820" y2="922"/>
<path d="M1310,1145 L1010,1140 M1310,1145 L1120,1000 M1310,1145 L1325,915"/>

<!-- 28 -->
<ellipse cx="877" cy="1010" rx="60" ry="108" transform="rotate(-18 877 1010)"/>
<!-- 27 body -->
<ellipse cx="1030" cy="955" rx="74" ry="104" transform="rotate(-15 1030 955)"/>
<ellipse cx="1030" cy="957" rx="42" ry="60" transform="rotate(-15 1030 957)" style="stroke-width:4.2"/>
<ellipse cx="1034" cy="957" rx="24" ry="40" transform="rotate(-15 1034 957)"/>
<path d="M1075,878 Q1100,862 1132,865 Q1165,880 1170,915 Q1168,945 1135,960 L1105,965"/>
<path d="M1090,890 Q1115,925 1108,962"/>
<path d="M1000,1058 Q1025,1080 1010,1125 Q990,1175 935,1197 Q885,1195 880,1150 Q885,1120 915,1117 L945,1112"/>
<path d="M1012,1062 Q1035,1090 1022,1130 Q1000,1185 935,1207 Q872,1205 868,1150 Q875,1112 910,1105"/>
<!-- 27 cap -->
<ellipse cx="1235" cy="840" rx="74" ry="102" transform="rotate(-15 1235 840)"/>
<ellipse cx="1237" cy="840" rx="54" ry="78" transform="rotate(-15 1237 840)"/>
<path d="M1240,775 Q1215,830 1245,885 Q1270,910 1290,900"/>
<path d="M1265,748 L1335,738 L1375,795 L1362,870 L1312,905 L1262,938"/>
<path d="M1335,738 L1318,800 L1362,870 M1318,800 L1290,805 M1300,850 L1345,845 M1312,905 L1300,850"/>

</g>
<g transform="translate(1160 680) scale(0.216638)">
<!-- big flange housing -->
<ellipse cx="1255" cy="365" rx="150" ry="212" transform="rotate(-20 1255 365)" style="stroke-width:3"/>
<ellipse cx="1275" cy="355" rx="106" ry="162" transform="rotate(-20 1275 355)"/>
<ellipse cx="1280" cy="352" rx="88" ry="138" transform="rotate(-20 1280 352)"/>
<path d="M1275,240 C1273.3,250.0 1262.5,278.3 1265,300 C1267.5,321.7 1279.2,350.0 1290,370 C1300.8,390.0 1318.3,408.3 1330,420 C1341.7,431.7 1355.0,436.7 1360,440"/>
<path d="M1280,185 C1290.0,178.8 1320.0,156.3 1340,148 C1360.0,139.7 1380.0,131.3 1400,135 C1420.0,138.7 1440.8,150.0 1460,170 C1479.2,190.0 1502.5,227.5 1515,255 C1527.5,282.5 1535.5,314.2 1535,335 C1534.5,355.8 1531.2,363.8 1512,380 C1492.8,396.2 1435.3,423.3 1420,432"/>
<path d="M1300,200 C1311.7,213.3 1352.5,253.3 1370,280 C1387.5,306.7 1398.3,335.0 1405,360 C1411.7,385.0 1409.2,418.3 1410,430"/>
<path d="M1405,180 Q1415,170 1430,180 L1455,205 Q1450,220 1435,212 Z M1475,270 Q1485,255 1495,270 L1505,310 Q1498,325 1487,315 Z"/>
<!-- O-ring -->
<ellipse cx="1060" cy="495" rx="58" ry="108" transform="rotate(-20 1060 495)" style="stroke-width:3.6"/>
<ellipse cx="1062" cy="497" rx="36" ry="84" transform="rotate(-20 1062 497)" style="stroke-width:3.4"/>
<!-- gasket -->
<ellipse cx="945" cy="572" rx="58" ry="120" transform="rotate(-24 945 572)"/>
<!-- valve body -->
<path d="M660,612 C670.0,608.3 698.3,592.0 720,590 C741.7,588.0 768.3,585.0 790,600 C811.7,615.0 836.3,660.8 850,680 C863.7,699.2 868.3,709.2 872,715"/>
<path d="M690,870 C701.7,866.7 736.7,861.7 760,850 C783.3,838.3 810.0,815.0 830,800 C850.0,785.0 867.5,776.7 880,760 C892.5,743.3 902.5,720.0 905,700 C907.5,680.0 904.2,658.3 895,640 C885.8,621.7 865.8,600.8 850,590 C834.2,579.2 815.0,575.0 800,575 C785.0,575.0 766.7,587.5 760,590"/>
<path d="M740,598 Q790,690 775,835 M765,590 Q815,680 800,820 M790,600 Q840,690 825,800 M810,612 Q855,690 845,780" style="stroke-width:3.6"/>
<ellipse cx="600" cy="770" rx="135" ry="218" transform="rotate(-18 600 770)" style="stroke-width:3.4"/>
<ellipse cx="608" cy="770" rx="112" ry="185" transform="rotate(-18 608 770)"/>
<ellipse cx="615" cy="768" rx="88" ry="148" transform="rotate(-18 615 768)" style="stroke-width:3.4"/>
<ellipse cx="620" cy="765" rx="66" ry="112" transform="rotate(-18 620 765)"/>
<ellipse cx="625" cy="765" rx="48" ry="82" transform="rotate(-18 625 765)"/>
<ellipse class="f" cx="615" cy="760" rx="32" ry="45" transform="rotate(-18 615 760)"/>
<path d="M600,740 L680,770" style="stroke-width:6"/>
<path d="M690,640 C696.7,653.3 721.7,693.3 730,720 C738.3,746.7 741.7,770.0 740,800 C738.3,830.0 728.3,875.0 720,900 C711.7,925.0 695.0,941.7 690,950"/>
<!-- small ring -->
<ellipse cx="435" cy="880" rx="56" ry="104" transform="rotate(-20 435 880)" style="stroke-width:3.6"/>
<ellipse cx="437" cy="882" rx="34" ry="80" transform="rotate(-20 437 882)" style="stroke-width:3.2"/>
<!-- cap 26 -->
<path d="M85,900 C88.3,896.7 97.5,880.8 105,880 C112.5,879.2 117.5,876.7 130,895 C142.5,913.3 161.7,957.5 180,990 C198.3,1022.5 224.2,1061.7 240,1090 C255.8,1118.3 269.2,1148.3 275,1160"/>
<path d="M85,900 C87.5,910.0 89.2,933.3 100,960 C110.8,986.7 133.3,1030.0 150,1060 C166.7,1090.0 187.5,1122.5 200,1140 C212.5,1157.5 220.8,1160.8 225,1165"/>
<path d="M110,905 C118.3,920.8 142.5,967.5 160,1000 C177.5,1032.5 200.8,1073.3 215,1100 C229.2,1126.7 240.0,1150.0 245,1160"/>
<path d="M150,915 L235,930 L330,885 L368,920 L382,990 L260,1105"/>
<path d="M235,930 Q265,1000 255,1090 M255,925 Q290,990 280,1075" style="stroke-width:4"/>
<path d="M290,915 L345,900 L360,940 L320,950 L325,975 L370,965 L375,1000 L300,1020 Z" style="stroke-width:4.5"/>
<path d="M250,1112 C263.3,1110.0 301.7,1110.3 330,1100 C358.3,1089.7 391.7,1066.7 420,1050 C448.3,1033.3 474.2,1014.7 500,1000 C525.8,985.3 562.5,968.3 575,962" style="stroke-width:4"/>
<!-- leaders -->
<path d="M1335,955 L1470,480 M1335,955 L1155,600 M1335,955 L1020,690 M1335,955 L805,862 M1335,955 L480,965 M1335,955 L250,1130"/>
<line x1="118" y1="665" x2="205" y2="905"/>

</g>
<g transform="translate(0 0) scale(1.000000)">
<!-- long near-tube lines in source coords -->
<path d="M346.7,1183.3 C355.6,1191.6 380.0,1214.4 400,1233.3 C420.0,1252.2 435.9,1268.1 466.7,1296.7 C497.5,1325.3 545.8,1370.0 585,1405 C624.2,1440.0 654.2,1470.3 701.7,1506.7 C749.2,1543.1 825.0,1595.0 869.7,1623.3 C914.4,1651.6 936.6,1660.1 970,1676.7 C1003.4,1693.3 1036.7,1710.7 1070,1722.7 C1103.3,1734.7 1136.7,1742.5 1170,1748.7 C1203.3,1754.9 1236.7,1757.8 1270,1760 C1303.3,1762.2 1341.2,1763.2 1370,1762 C1398.8,1760.8 1430.8,1754.5 1443,1753"/>
<path d="M335.8,1165 C347.3,1175.8 362.6,1190.8 405,1230 C447.4,1269.2 512.5,1337.0 590,1400 C667.5,1463.0 806.4,1565.0 869.7,1608.3 C933.0,1651.6 936.6,1644.7 970,1660 C1003.4,1675.3 1036.7,1689.0 1070,1700 C1103.3,1711.0 1136.7,1719.7 1170,1726 C1203.3,1732.3 1236.7,1735.5 1270,1738 C1303.3,1740.5 1341.2,1741.3 1370,1741 C1398.8,1740.7 1430.8,1736.8 1443,1736"/>
<path d="M333.3,1155 C346.5,1167.5 368.1,1189.2 412.5,1230 C456.9,1270.8 523.8,1338.3 600,1400 C676.2,1461.7 808.0,1558.0 869.7,1600 C931.4,1642.0 936.6,1636.8 970,1652 C1003.4,1667.2 1036.7,1680.2 1070,1691 C1103.3,1701.8 1136.7,1710.6 1170,1717 C1203.3,1723.4 1236.7,1726.8 1270,1729.5 C1303.3,1732.2 1341.2,1733.2 1370,1733 C1398.8,1732.8 1430.8,1728.8 1443,1728"/>
<path d="M331.7,1148.3 C346.1,1161.9 372.9,1188.0 418.3,1230 C463.7,1272.0 529.0,1339.3 604.2,1400 C679.4,1460.7 808.7,1553.1 869.7,1594.2 C930.7,1635.3 936.6,1631.4 970,1646.7 C1003.4,1662.0 1036.7,1675.2 1070,1686 C1103.3,1696.8 1136.7,1705.3 1170,1711.7 C1203.3,1718.1 1236.7,1721.5 1270,1724.3 C1303.3,1727.1 1341.2,1728.9 1370,1728.7 C1398.8,1728.5 1430.8,1724.2 1443,1723.3"/>
<path d="M331.5,1141.7 C346.8,1156.4 376.2,1187.0 423.3,1230 C470.4,1273.0 539.8,1340.7 614.2,1400 C688.6,1459.3 810.4,1546.3 869.7,1585.8 C929.0,1625.2 936.6,1621.7 970,1636.7 C1003.4,1651.7 1036.7,1665.3 1070,1676 C1103.3,1686.7 1136.7,1694.6 1170,1701 C1203.3,1707.4 1236.7,1711.3 1270,1714.3 C1303.3,1717.2 1341.2,1718.9 1370,1718.7 C1398.8,1718.5 1430.8,1714.2 1443,1713.3" style="stroke-width:3.6"/>
<path d="M334.2,1128.3 C351.8,1145.2 409.6,1202.5 440,1230 C470.4,1257.5 484.6,1265.0 516.7,1293.3 C548.8,1321.6 593.3,1367.5 632.5,1400 C671.7,1432.5 712.2,1461.2 751.7,1488.3 C791.2,1515.4 833.3,1542.7 869.7,1562.5 C906.1,1582.3 936.6,1593.3 970,1607.3 C1003.4,1621.3 1036.7,1635.6 1070,1646.7 C1103.3,1657.8 1136.7,1667.1 1170,1674 C1203.3,1680.9 1236.7,1685.2 1270,1688.3 C1303.3,1691.4 1341.2,1692.8 1370,1692.7 C1398.8,1692.7 1430.8,1688.8 1443,1688"/>
<!-- around the bow -->
<path d="M1370,1762 C1382.2,1760.5 1421.9,1758.7 1443,1753 C1464.1,1747.3 1479.4,1738.0 1496.7,1728 C1514.0,1718.0 1530.0,1705.7 1546.7,1693 C1563.4,1680.3 1582.5,1664.5 1596.7,1652 C1610.9,1639.5 1620.8,1629.3 1631.7,1618.3 C1642.6,1607.3 1657.0,1591.4 1662,1586"/>
<path d="M1370,1741 C1382.2,1740.0 1421.3,1739.0 1443,1734.7 C1464.7,1730.4 1482.2,1723.6 1500,1715 C1517.8,1706.4 1535.0,1693.8 1550,1683 C1565.0,1672.2 1577.8,1660.8 1590,1650 C1602.2,1639.2 1613.0,1628.0 1623,1618 C1633.0,1608.0 1645.5,1594.7 1650,1590"/>
<path d="M1370,1728.7 C1382.2,1727.2 1423.0,1723.5 1443,1720 C1463.0,1716.5 1475.5,1713.0 1490,1708 C1504.5,1703.0 1518.3,1697.7 1530,1690 C1541.7,1682.3 1547.7,1674.0 1560,1662 C1572.3,1650.0 1592.3,1630.0 1604,1618 C1615.7,1606.0 1625.7,1594.7 1630,1590"/>
<path d="M1370,1718.7 C1382.2,1717.8 1424.7,1715.6 1443,1713.3 C1461.3,1711.0 1467.2,1708.9 1480,1705 C1492.8,1701.1 1508.3,1697.2 1520,1690 C1531.7,1682.8 1537.5,1673.8 1550,1662 C1562.5,1650.2 1582.5,1631.0 1595,1619 C1607.5,1607.0 1620.0,1594.8 1625,1590" style="stroke-width:3.6"/>
<path d="M1370,1692.7 C1382.2,1691.9 1425.2,1692.1 1443,1688 C1460.8,1683.9 1462.2,1677.3 1476.7,1668 C1491.2,1658.7 1517.2,1640.4 1530,1632 C1542.8,1623.6 1543.3,1624.2 1553.3,1617.5 C1563.3,1610.8 1583.9,1596.2 1590,1592"/>
<line x1="233" y1="1123.3" x2="300" y2="1123.3"/>
<path d="M475,1826.7 L595,1931.7 M464,1838 L586,1946"/>
<!-- keel strip full -->
<path d="M560,1578 L595,1578"/>
<path d="M560.0,1578.0 L898.0,1849.0"/>
<path d="M898,1849 C909.7,1854.8 941.1,1873.5 968.4,1884 C995.7,1894.5 1031.6,1905.3 1062,1912 C1092.4,1918.7 1133.0,1922.5 1151,1924 C1169.0,1925.5 1165.8,1922.8 1170,1921 C1174.2,1919.2 1175.0,1914.3 1176,1913"/>
<path d="M568.8,1578.0 L901.5,1842.5"/>
<path d="M901.5,1842.5 C912.6,1848.0 941.6,1864.8 968.4,1875.2 C995.1,1885.6 1031.6,1897.4 1062,1904.7 C1092.4,1912.0 1133.2,1916.6 1151,1918.8 C1168.8,1921.0 1166.0,1918.0 1169,1917.8"/>
<path d="M577.5,1578.0 L905.0,1836.0"/>
<path d="M905,1836 C915.6,1841.0 942.2,1856.0 968.4,1866.3 C994.6,1876.5 1031.6,1889.6 1062,1897.5 C1092.4,1905.4 1133.2,1910.9 1151,1913.7 C1168.8,1916.5 1166.0,1914.4 1169,1914.5"/>
<path d="M586.2,1578.0 L908.5,1829.5"/>
<path d="M908.5,1829.5 C918.5,1834.2 942.8,1847.4 968.4,1857.5 C994.0,1867.6 1031.6,1881.7 1062,1890.2 C1092.4,1898.7 1133.2,1905.0 1151,1908.5 C1168.8,1912.0 1166.0,1910.8 1169,1911.2"/>
<path d="M595.0,1578.0 L912.0,1823.0"/>
<path d="M912,1823 C921.4,1827.3 943.4,1838.6 968.4,1848.6 C993.4,1858.6 1031.6,1873.8 1062,1882.9 C1092.4,1892.0 1133.0,1899.3 1151,1903.3 C1169.0,1907.2 1165.8,1905.0 1170,1906.6 C1174.2,1908.2 1175.0,1911.9 1176,1913"/>
<line x1="1726" y1="1461.7" x2="1781" y2="1457.5"/>

</g>
<g transform="translate(0 1330) scale(0.333333)">
<!-- oar blade 36 -->
<path d="M30,385 Q25,372 40,360 L140,262 Q152,252 165,262 L300,400 L450,540 Q500,585 520,612 L600,745 L705,845 Q712,855 700,865 L672,890 L575,805 Q480,765 400,720 Q330,680 270,625 L100,470 Z"/>
<path d="M520,612 L600,748 M300,625 L560,792"/>
<path d="M128,365 Q122,350 135,345 Q148,342 155,352 L600,748 M128,365 L575,805"/>
<path d="M170,303 L443,562" style="stroke-width:5.5"/>
<path d="M170,303 L443,562" style="stroke:#fff;stroke-width:1.6"/>
<path d="M80,398 L365,652" style="stroke-width:5.5"/>
<path d="M80,398 L365,652" style="stroke:#fff;stroke-width:1.6"/>
<line x1="268" y1="622" x2="128" y2="695"/>
<!-- oar shaft upper -->
<path d="M900,1030 L795,935 Q778,925 768,940 Q760,955 770,968 L900,1088"/>
<circle cx="818" cy="992" r="13"/>
<line x1="1125" y1="1305" x2="990" y2="1375"/>
<!-- part 41 -->
<g transform="translate(0 -990)">
<path d="M742,672 Q730,640 770,637 Q795,640 815,660 L972,812 Q992,835 965,843 Q930,848 905,830 L750,690 Z"/>
<path d="M768,706 Q722,740 742,772 Q790,815 885,822"/>
<line x1="575" y1="797" x2="740" y2="745"/>
<!-- leader 35, 19 -->
</g>

</g>
<g transform="translate(300 760) scale(0.333333)">
<!-- rail 52 -->
<path d="M105,392 L945,100 L972,137 L150,425 Z"/>
<path d="M150,425 L148,475 L962,182 L972,137"/>
<path d="M105,392 L105,440 L148,475"/>
<path d="M112,397 L949,106 M119,402 L953,111 M126,407 L957,117 M133,412 L961,122 M140,417 L965,128 M146,422 L969,133" style="stroke-width:3.2"/>
<line x1="348" y1="405" x2="300" y2="560"/>
<!-- plate 16 -->
<path d="M862,348 L1085,272 Q1098,270 1100,285 L1110,445 L905,522 Q895,522 890,510 Z" style="stroke-width:3.6"/>
<circle class="f" cx="985" cy="322" r="4"/><circle class="f" cx="1083" cy="297" r="4"/><circle class="f" cx="890" cy="428" r="4"/><circle class="f" cx="1000" cy="470" r="4"/><circle class="f" cx="1092" cy="372" r="4"/><circle class="f" cx="912" cy="497" r="4"/>
<line x1="1020" y1="160" x2="985" y2="320"/>
<path d="M876,357 L1080,287 Q1088,286 1089,295 L1097,437 L908,508 Q902,508 900,500 Z" style="stroke-width:2.4"/>

</g>
<g transform="translate(60 1870) scale(0.333333)">
<rect x="177" y="308" width="1208" height="760" style="stroke-width:4.4;stroke-linejoin:miter"/>
<line x1="518" y1="305" x2="602" y2="140"/>
<line x1="497" y1="500" x2="672" y2="525"/>
<line x1="315" y1="690" x2="345" y2="800"/>
<line x1="1210" y1="738" x2="1195" y2="880"/>
<!-- pump -->
<rect x="818" y="355" width="170" height="23" rx="10"/>
<path d="M890,380 L890,428 M915,380 L915,428"/>
<ellipse cx="905" cy="440" rx="70" ry="14"/>
<path d="M835,452 Q905,478 975,452"/>
<path d="M835,440 L835,880 M975,440 L975,880 M847,620 L847,880 M963,620 L963,880"/>
<path d="M880,436 Q905,430 930,436" style="stroke-width:4"/>
<path d="M835,880 Q800,890 768,900 L765,915 Q830,915 860,920 Q905,930 950,915 Q990,905 1025,910 L1028,895 Q1000,885 975,880"/>
<path d="M885,378 C867.5,382.0 810.8,388.3 780,402 C749.2,415.7 718.3,438.7 700,460 C681.7,481.3 671.7,508.3 670,530 C668.3,551.7 675.0,575.8 690,590 C705.0,604.2 725.0,610.0 760,615 C795.0,620.0 856.7,615.8 900,620 C943.3,624.2 990.0,628.3 1020,640 C1050.0,651.7 1069.2,673.3 1080,690 C1090.8,706.7 1091.7,725.8 1085,740 C1078.3,754.2 1062.5,767.5 1040,775 C1017.5,782.5 990.0,785.5 950,785 C910.0,784.5 855.0,774.8 800,772 C745.0,769.2 666.7,765.0 620,768 C573.3,771.0 543.7,779.7 520,790 C496.3,800.3 483.0,818.3 478,830 C473.0,841.7 476.3,850.0 490,860 C503.7,870.0 525.0,877.5 560,890 C595.0,902.5 660.0,924.2 700,935 C740.0,945.8 775.0,950.5 800,955 C825.0,959.5 841.7,960.8 850,962" style="stroke-width:3.8"/>
<path d="M885,378 C867.5,382.0 810.8,388.3 780,402 C749.2,415.7 718.3,438.7 700,460 C681.7,481.3 671.7,508.3 670,530 C668.3,551.7 675.0,575.8 690,590 C705.0,604.2 725.0,610.0 760,615 C795.0,620.0 856.7,615.8 900,620 C943.3,624.2 990.0,628.3 1020,640 C1050.0,651.7 1069.2,673.3 1080,690 C1090.8,706.7 1091.7,725.8 1085,740 C1078.3,754.2 1062.5,767.5 1040,775 C1017.5,782.5 990.0,785.5 950,785 C910.0,784.5 855.0,774.8 800,772 C745.0,769.2 666.7,765.0 620,768 C573.3,771.0 543.7,779.7 520,790 C496.3,800.3 483.0,818.3 478,830 C473.0,841.7 476.3,850.0 490,860 C503.7,870.0 525.0,877.5 560,890 C595.0,902.5 660.0,924.2 700,935 C740.0,945.8 775.0,950.5 800,955 C825.0,959.5 841.7,960.8 850,962" style="stroke:#fff;stroke-width:0.7"/>
<!-- gauge 43 -->
<circle cx="352" cy="865" r="62"/>
<circle cx="352" cy="865" r="50" style="stroke-width:3"/>
<path d="M352,825 L352,835 M322,840 L330,846 M312,868 L322,868 M322,895 L330,888 M380,840 L374,848 M392,866 L382,866 M378,893 L372,886" style="stroke-width:3.5"/>
<path d="M340,840 L362,890" style="stroke-width:3.5"/>
<path d="M292,880 L270,888 L264,930 L290,940 L300,925 L405,965 L410,980 L425,935 L412,905"/>
<path d="M290,940 L410,982 M400,930 L420,940"/>
<!-- part 45 -->
<path d="M1115,935 L1120,960 L1268,917 Q1282,900 1270,880 L1255,874 Z"/>
<path d="M1135,885 L1160,876 L1218,985 L1196,996 Z" class="w"/>
<path d="M1125,962 L1135,980 L1160,972 M1140,960 L1148,976" style="stroke-width:4"/>
<ellipse cx="1268" cy="897" rx="8" ry="20" transform="rotate(-15 1268 897)"/>
<!-- oar shaft lower -->
<path d="M1585,240 L1720,360 M1610,190 L1720,290"/>
<path d="M1580,235 L1605,185" style="stroke-width:5"/>

</g>
<g transform="translate(630 1870) scale(0.333333)">
<rect x="187" y="315" width="1230" height="817" style="stroke-width:4.4;stroke-linejoin:miter"/>
<line x1="493" y1="312" x2="545" y2="175"/>
<line x1="305" y1="700" x2="330" y2="850"/>
<line x1="780" y1="760" x2="790" y2="895"/>
<line x1="1150" y1="540" x2="1085" y2="670"/>
<!-- can -->
<ellipse cx="562" cy="598" rx="88" ry="36" transform="rotate(-8 562 598)"/>
<path d="M475,612 L474,640 Q560,690 650,625 L650,590"/>
<path d="M474,640 L487,850 Q550,900 615,850 L650,625"/>
<path d="M498,608 Q520,570 575,552 M520,625 Q545,585 610,560 M575,552 Q590,520 615,532 Q635,545 615,565"/>
<path d="M500,612 Q560,655 640,600" />
<!-- tube 47 -->
<path d="M278,872 L290,858 L305,868 L330,870 L515,993 L455,1057 L305,912 L298,890 Z"/>
<path d="M508,988 L448,1050 M290,858 L298,890 M305,868 L305,912"/>
<!-- plug 48 -->
<ellipse cx="775" cy="703" rx="50" ry="46" style="stroke-width:3.6"/>
<path d="M735,725 Q770,690 815,715 M742,745 Q775,715 815,740 M760,760 Q785,735 812,755" style="stroke-width:3.4"/>
<circle cx="795" cy="742" r="17" style="stroke-width:3.4"/>
<!-- 49 -->
<ellipse cx="1085" cy="730" rx="46" ry="43" style="stroke-width:4.6"/>
<path d="M1072,712 L1118,930 M1100,705 L1155,925" style="stroke-width:3.6"/>
<circle class="f" cx="1138" cy="938" r="20"/>
<!-- shaft end -->
<path d="M-5,262 L35,298 Q52,320 42,340 Q25,360 -5,352"/>
<path d="M-5,290 L25,318 Q35,332 20,342"/>

</g>
<g transform="translate(1140 1870) scale(0.386399)">
<path d="M365,315 L745,298 L775,400 L990,440 L1050,570 L845,655 L893,868 L250,877 L290,665 L75,597 L140,463 L345,415 Z"/>
<path d="M405,335 L408,355 M550,330 L550,350 M698,325 L700,347" style="stroke-width:4"/>
<text filter="url(#gs)" x="556" y="388" text-anchor="middle" style="font-family:'Liberation Sans',sans-serif;font-weight:bold;font-size:26px;fill:#000;stroke:none">LodeStar</text>
<path d="M505,415 Q498,462 560,466 Q622,462 620,420"/>
<path d="M390,482 L300,468 Q278,475 280,520 Q285,557 320,560 L390,563"/>
<path d="M722,478 L815,464 Q842,475 843,510 Q840,546 810,549 L728,553"/>
<path d="M505,602 L500,660 Q505,692 550,693 Q612,690 622,660 L626,610"/>
<path d="M952,470 L978,462 Q985,470 978,478 L955,485 Q947,478 952,470 Z M978,525 L1002,518 Q1010,526 1003,534 L980,541 Q972,533 978,525 Z" style="stroke-width:3"/>
<path d="M75,485 L105,492 L170,497 M70,548 L180,555 L295,580 M75,485 L120,520 M70,548 L85,560"/>
<path d="M355,725 C351.7,742.5 337.8,792.5 335,830 C332.2,867.5 341.3,914.2 338,950 C334.7,985.8 318.8,1029.2 315,1045"/>
<path d="M560,730 C560.8,746.7 560.0,798.3 565,830 C570.0,861.7 590.5,891.7 590,920 C589.5,948.3 565.3,979.2 562,1000 C558.7,1020.8 568.7,1037.5 570,1045"/>
<path d="M780,720 C782.5,738.3 791.7,791.7 795,830 C798.3,868.3 796.2,920.0 800,950 C803.8,980.0 816.7,995.8 818,1010 C819.3,1024.2 809.7,1030.8 808,1035"/>
<line x1="480" y1="308" x2="528" y2="205"/>
<!-- 51 bag -->
<path d="M1187,158 L1363,160 L1362,885 Q1355,915 1320,918 L1220,920 Q1192,915 1187,885 Z" style="stroke-width:3.6"/>
<path d="M1190,178 L1360,180" />
<path d="M1200,880 L1270,880 M1285,880 L1350,880 M1210,905 L1330,900" style="stroke-width:4"/>
<path d="M1262,140 Q1275,118 1292,130 Q1300,145 1290,158 M1268,150 L1285,150" style="stroke-width:3.4"/>
<path class="f" d="M1215,360 L1245,335 L1262,308 L1315,308 L1290,350 L1262,372 L1222,380 Z"/>
<path d="M1262,335 Q1275,315 1295,322" style="stroke:#fff;stroke-width:2"/>
<line x1="1365" y1="435" x2="1480" y2="350"/>

</g>
<g transform="translate(585 1185) scale(0.166667)">
<path d="M90,-5 L790,545 L1175,845 L1720,1270"/>
<path d="M435,-5 L1720,940"/>
<path d="M820,-60 L1250,305 L1720,740"/>
<path d="M1100,-5 L1720,395"/>
<path d="M1250,290 Q1300,215 1420,195 M1315,385 Q1370,300 1500,262"/>
<path d="M430,-5 L510,50 Q560,30 600,-5"/>
<!-- patch -->
<path d="M785,545 L1170,850 L1165,935 L790,640 Z"/>
<!-- rope -->
<path d="M-10,180 C16.7,198.3 98.3,261.7 150,290 C201.7,318.3 256.7,334.2 300,350 C343.3,365.8 391.7,379.2 410,385"/>
<path d="M-10,210 C25.0,233.3 131.7,315.0 200,350 C268.3,385.0 366.7,408.3 400,420"/>
<path d="M410,400 Q390,340 440,318 Q475,330 455,385 L440,440"/>
<path d="M450,385 L530,372 Q550,385 540,402 L460,422"/>
<path d="M440,440 C448.3,455.0 463.3,493.3 490,530 C516.7,566.7 561.7,618.3 600,660 C638.3,701.7 670.0,731.7 720,780 C770.0,828.3 836.7,900.8 900,950 C963.3,999.2 1033.3,1041.7 1100,1075 C1166.7,1108.3 1250.0,1134.2 1300,1150 C1350.0,1165.8 1383.3,1166.7 1400,1170"/>
<path d="M480,440 C490.0,456.7 493.3,483.3 540,540 C586.7,596.7 691.7,713.3 760,780 C828.3,846.7 885.0,895.0 950,940 C1015.0,985.0 1086.7,1020.0 1150,1050 C1213.3,1080.0 1288.3,1105.8 1330,1120 C1371.7,1134.2 1388.3,1132.5 1400,1135"/>
<path d="M480,530 L720,780" style="stroke-width:4.5"/>
<path d="M1400,1170 Q1375,1100 1440,1075 Q1475,1090 1450,1140 L1430,1200"/>
<path d="M1440,1160 L1550,1148 Q1570,1165 1560,1186 L1450,1212"/>
<path d="M1410,1210 C1421.7,1230.0 1448.3,1295.0 1480,1330 C1511.7,1365.0 1560.0,1394.0 1600,1420 C1640.0,1446.0 1700.0,1475.0 1720,1486"/>
<path d="M1450,1210 C1461.7,1228.3 1475.0,1280.7 1520,1320 C1565.0,1359.3 1686.7,1425.0 1720,1446"/>
<!-- carry handle -->
<path d="M250,590 Q250,545 300,515 Q380,480 520,510 Q650,580 720,670 Q760,740 720,800 Q680,840 600,848 Q520,840 420,770 Q300,680 250,590 Z"/>
<ellipse cx="500" cy="665" rx="205" ry="105" transform="rotate(36 500 665)"/>
<path d="M340,545 L385,520 L450,565 L400,600 Z M400,600 Q380,650 420,700 L640,770 M450,565 L640,770 M420,700 L470,580" />
<path d="M470,560 L650,740" style="stroke-width:5"/>
<path d="M380,640 Q390,690 440,700" style="stroke-width:4.5"/>
<!-- second handle (partial) -->
<path d="M1390,820 Q1400,780 1470,785 L1720,885 M1390,820 Q1420,885 1520,922 L1720,985"/>
<path d="M1450,830 Q1470,800 1540,820 L1720,900 M1450,830 Q1500,880 1600,905 L1720,940"/>
<path d="M1500,825 L1720,915" style="stroke-width:4.5"/>

</g>
<g transform="translate(1530 1470) scale(0.076104)">
<path d="M300,370 L570,190 L620,210 L900,470 L1170,285 L1100,620 L1470,950 L1200,1130 L1040,1120 L1030,1280 L740,1470 L570,1040 L210,970 L460,790 Z" style="stroke-width:3"/>
<path d="M345,340 L675,860 M400,305 L730,825 M455,270 L785,790 M510,235 L840,755 M565,205 L895,725 M330,450 L730,200 M365,540 L765,290 M400,630 L800,380 M430,710 L830,460 M620,230 L360,400 M700,300 L440,470 M780,370 L520,540 M850,430 L590,600 M1165,300 L935,620 M1165,300 L975,650 M1165,300 L1015,680 M1165,300 L1055,710 M1165,300 L1090,730 M1460,950 L950,700 M1460,950 L930,780 M1460,950 L910,860 M1460,950 L930,940 M1460,950 L970,1020 M1460,950 L1020,1090 M745,1460 L660,900 M745,1460 L730,910 M745,1460 L800,925 M745,1460 L870,940 M745,1460 L940,950 M745,1460 L1005,960 M220,968 L630,830 M220,968 L650,880 M220,968 L670,930 M220,968 L695,985" style="stroke-width:2.6"/>
<path class="f" d="M540,800 L650,680 L800,640 L930,720 L1020,900 L960,1040 L770,1060 L630,990 Z"/>
<path d="M800,700 Q720,650 650,720 Q610,790 670,850" style="stroke:#fff;stroke-width:2.2"/>

</g>
</g>
<g class="n" style="opacity:0.999">
<text transform="translate(1385 254.6) scale(0.85 1)">7</text>
<text transform="translate(987.7 166.3) scale(0.85 1)">8</text>
<text transform="translate(858.3 216.3) scale(0.85 1)">9</text>
<text transform="translate(956 588.1) scale(0.85 1)">6</text>
<text transform="translate(1127.5 725.6) scale(0.85 1)">5</text>
<text transform="translate(1470 920.6) scale(0.85 1)">25</text>
<text transform="translate(441.7 369.6) scale(0.85 1)">30</text>
<text transform="translate(234.5 745.6) scale(0.85 1)">29</text>
<text transform="translate(396 985.6) scale(0.85 1)">52</text>
<text transform="translate(648.3 807.3) scale(0.85 1)">16</text>
<text transform="translate(725 888.9) scale(0.85 1)">18</text>
<text transform="translate(794.3 875.6) scale(0.85 1)">11</text>
<text transform="translate(743 957.1) scale(0.85 1)">17</text>
<text transform="translate(565 990.6) scale(0.85 1)">14</text>
<text transform="translate(506.7 1017.3) scale(0.85 1)">12</text>
<text transform="translate(856.7 1180.6) scale(0.85 1)">15</text>
<text transform="translate(382.7 1303.1) scale(0.85 1)">40</text>
<text transform="translate(283.3 1040.6) scale(0.85 1)">35</text>
<text transform="translate(209.3 1135.6) scale(0.85 1)">19</text>
<text transform="translate(168.3 1294.9) scale(0.85 1)">41</text>
<text transform="translate(423.3 1346.1) scale(0.85 1)">24</text>
<text transform="translate(342.7 1352.3) scale(0.85 1)">39</text>
<text transform="translate(1177 816.6) scale(0.85 1)">26</text>
<text transform="translate(1045 894.9) scale(0.85 1)">34</text>
<text transform="translate(938.3 852.3) scale(0.85 1)">13</text>
<text transform="translate(1311.7 1071.3) scale(0.85 1)">10</text>
<text transform="translate(1429.3 1038.9) scale(0.85 1)">28</text>
<text transform="translate(1685 1177.3) scale(0.85 1)">27</text>
<text transform="translate(1627.3 1268.9) scale(0.85 1)">22</text>
<text transform="translate(923.3 1740.6) scale(0.85 1)">3</text>
<text transform="translate(1163.3 1831.6) scale(0.85 1)">21</text>
<text transform="translate(1249.3 1822.9) scale(0.85 1)">33</text>
<text transform="translate(1378.3 1830.6) scale(0.85 1)">31</text>
<text transform="translate(1517.3 1818.9) scale(0.85 1)">32</text>
<text transform="translate(1740 1631.6) scale(0.85 1)">23</text>
<text transform="translate(1636.7 1753.9) scale(0.85 1)">20</text>
<text transform="translate(1793.3 1473.9) scale(0.85 1)">1</text>
<text transform="translate(720.7 1808.9) scale(0.85 1)">4</text>
<text transform="translate(419.3 1653.9) scale(0.85 1)">38</text>
<text transform="translate(20.7 1594.9) scale(0.85 1)">36</text>
<text transform="translate(305 1818.3) scale(0.85 1)">37</text>
<text transform="translate(275 1908.6) scale(0.85 1)">42</text>
<text transform="translate(1045 1305.6) scale(0.85 1)">2</text>
<text transform="translate(202.7 2044.9) scale(0.85 1)">44</text>
<text transform="translate(158.3 2093.3) scale(0.85 1)">43</text>
<text transform="translate(465 2109.6) scale(0.85 1)">45</text>
<text transform="translate(823.3 1925.6) scale(0.85 1)">46</text>
<text transform="translate(730 2097.3) scale(0.85 1)">47</text>
<text transform="translate(893.3 2202.3) scale(0.85 1)">48</text>
<text transform="translate(1026.7 2041.6) scale(0.85 1)">49</text>
<text transform="translate(1364.1 1946.6) scale(0.85 1)">50</text>
<text transform="translate(1733.1 2014.3) scale(0.85 1)">51</text>
<text transform="translate(1685.6 2275.9) scale(0.85 1)">36933</text>
</g>
</svg>
</body></html>
